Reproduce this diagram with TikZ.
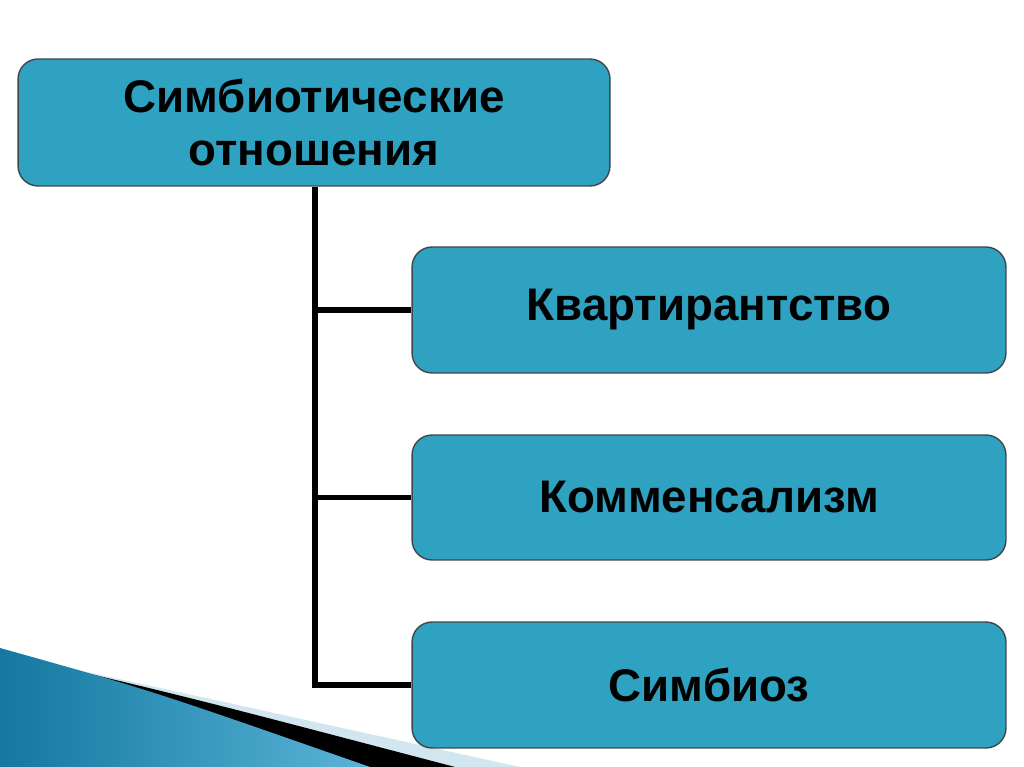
\documentclass[tikz,border=0pt]{standalone}
\usepackage{fontspec}
\setmainfont{Liberation Sans}
\begin{document}
\begin{tikzpicture}[x=0.02cm,y=-0.02cm,
  box/.style={draw=black!80!cyan, line width=0.8pt, fill=boxblue, rounded corners=0.4cm, inner sep=0pt, align=center, font=\bfseries\fontsize{26}{30}\selectfont},
  conn/.style={line width=3pt, black}]
\definecolor{boxblue}{RGB}{46,162,192}
\definecolor{deepblue}{RGB}{20,120,160}
\definecolor{lightblue}{RGB}{90,180,215}
\definecolor{paleblue}{RGB}{210,230,240}
\useasboundingbox (0,0) rectangle (1024,767);
% background decoration
\fill[paleblue] (60,666) -- (520,767) -- (380,767) -- cycle;
\fill[black] (40,662) .. controls (200,700) .. (455,767) -- (340,767) -- cycle;
\shade[left color=deepblue, right color=lightblue] (0,648) .. controls (150,690) .. (370,767) -- (0,767) -- cycle;
% nodes
\node[box, minimum width=11.84cm, minimum height=2.54cm, text depth=-0.1cm] (top) at (314,122.5) {Симбиотические\\отношения};
\node[box, minimum width=11.88cm, minimum height=2.52cm] (b1) at (709,310) {Квартирантство};
\node[box, minimum width=11.88cm, minimum height=2.5cm] (b2) at (709,497.5) {Комменсализм};
\node[box, minimum width=11.88cm, minimum height=2.52cm] (b3) at (709,685) {Симбиоз};
\coordinate (t) at (315,186);
\draw[conn] (top.south -| t) -- (t |- b3.west) -- (b3.west);
\draw[conn] (t |- b1.west) -- (b1.west);
\draw[conn] (t |- b2.west) -- (b2.west);
\end{tikzpicture}
\end{document}
